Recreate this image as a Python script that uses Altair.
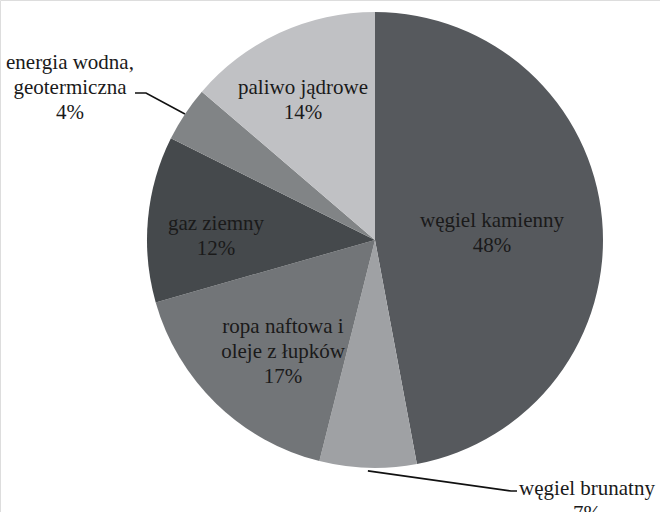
import math
import altair as alt
import pandas as pd

# Structure of primary energy sources (shares in %)
sources = [
    "węgiel kamienny",
    "węgiel brunatny",
    "ropa naftowa i oleje z łupków",
    "gaz ziemny",
    "energia wodna, geotermiczna",
    "paliwo jądrowe",
]
shares = [48, 7, 17, 12, 4, 14]
label_text = [
    "węgiel kamienny",
    "węgiel brunatny",
    "ropa naftowa i\noleje z łupków",
    "gaz ziemny",
    "energia wodna,\ngeotermiczna",
    "paliwo jądrowe",
]
colors = ["#56595d", "#9fa1a4", "#727578", "#45494c", "#818486", "#c0c1c4"]

# Layout (label anchors are the centres of each label's first line)
W, H = 660, 512
CX, CY, R = 375, 240, 228
FONT = "Liberation Serif"
label_pos = [(492, 221), (587, 489), (283, 327), (216, 224), (70, 63), (303, 88)]

pie = pd.DataFrame({
    "source": sources,
    "share": shares,
    "idx": list(range(len(sources))),
})

labels = pd.DataFrame({
    "text": [f"{t}\n{s}%" for t, s in zip(label_text, shares)],
    "px": [p[0] for p in label_pos],
    "py": [p[1] for p in label_pos],
})

# Leader lines start at the edge of a slice, at its middle angle
total = sum(shares)
def mid_point(i, r):
    start = sum(shares[:i])
    a = (start + shares[i] / 2) / total * 2 * math.pi
    return CX + r * math.sin(a), CY - r * math.cos(a)

ex, ey = mid_point(4, R)
bx, by = mid_point(1, R + 3)
leaders = pd.DataFrame({
    "line": ["energia"] * 3 + ["brunatny"] * 3,
    "step": [0, 1, 2, 0, 1, 2],
    "lx": [135, 146, ex, bx, 511, 517],
    "ly": [93, 93, ey, by, 491, 491],
})

arcs = alt.Chart(pie).mark_arc(radius=R, stroke=None).encode(
    theta=alt.Theta("share:Q", stack=True),
    order=alt.Order("idx:Q"),
    color=alt.Color("source:N", scale=alt.Scale(domain=sources, range=colors), legend=None),
    x=alt.value(CX),
    y=alt.value(CY),
)

text = alt.Chart(labels).mark_text(
    font=FONT, fontSize=21, lineBreak="\n", lineHeight=25,
    align="center", baseline="middle", color="#1a1a1a",
).encode(
    x=alt.X("px:Q", scale=None),
    y=alt.Y("py:Q", scale=None),
    text="text:N",
)

lines = alt.Chart(leaders).mark_line(color="#111111", strokeWidth=1.6).encode(
    x=alt.X("lx:Q", scale=None),
    y=alt.Y("ly:Q", scale=None),
    detail="line:N",
    order="step:Q",
)

chart = alt.layer(arcs, lines, text).properties(
    width=W, height=H, padding=0, autosize=alt.AutoSizeParams(type="none"),
).configure_view(stroke=None).configure(background="white")

chart.save("out.html", embed_options={"renderer": "svg", "actions": False})
